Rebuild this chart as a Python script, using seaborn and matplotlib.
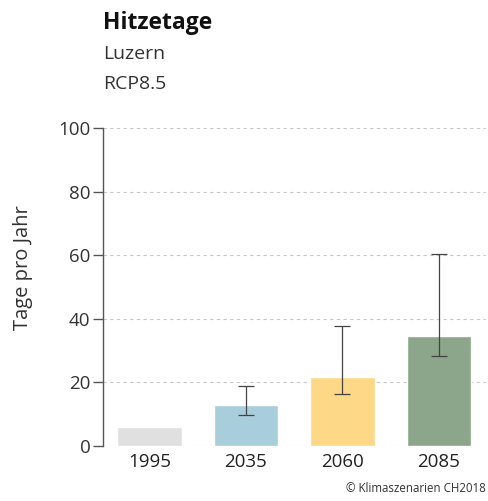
import matplotlib
matplotlib.use("Agg")
import matplotlib.pyplot as plt
import seaborn as sns
import pandas as pd
import numpy as np

periods = ["1995", "2035", "2060", "2085"]
values = [6.1, 12.9, 21.8, 34.6]
err_low = [np.nan, 9.6, 16.2, 28.3]
err_high = [np.nan, 18.9, 37.6, 60.5]
colors = ["#e0e0e0", "#a8cedb", "#fdd886", "#8ba68a"]
yticks = [0, 20, 40, 60, 80, 100]

sns.set_theme(style="white")
plt.rcParams['font.family'] = ['Open Sans', 'DejaVu Sans']

df = pd.DataFrame({"period": periods, "value": values})

fig = plt.figure(figsize=(4.88, 5.01), dpi=100)
ax = fig.add_axes([0.211, 0.11, 0.785, 0.634])

sns.barplot(data=df, x="period", y="value", hue="period", palette=colors,
            legend=False, width=0.67, ax=ax, errorbar=None, saturation=1)

x = np.arange(len(periods))
mid = np.array(values)
lo = np.array(err_low)
hi = np.array(err_high)
ax.errorbar(x[1:], mid[1:], yerr=[mid[1:] - lo[1:], hi[1:] - mid[1:]],
            fmt="none", ecolor="#444444", elinewidth=0.9, capsize=5.5, capthick=0.9)

ax.set_xlim(-0.483, 3.49)
ax.set_ylim(0, 100)
ax.set_yticks(yticks)
ax.yaxis.grid(True, linestyle=(0, (3, 3)), color="#c8c8c8", linewidth=0.8)
ax.set_axisbelow(True)
for s in ["top", "right", "bottom"]:
    ax.spines[s].set_visible(False)
ax.spines["left"].set_color("#555555")
ax.spines["left"].set_linewidth(1.0)
ax.tick_params(axis="y", length=7, width=1, color="#555555", labelsize=13.5, labelcolor="#333333", pad=2, left=True)
ax.tick_params(axis="x", length=0, labelsize=13.5, labelcolor="#222222", pad=5)
ax.set_xlabel("")
ax.set_ylabel("Tage pro Jahr", fontsize=14.5, color="#333333")
ax.yaxis.set_label_coords(-0.182, 0.56)

fig.text(0.211, 0.955, "Hitzetage", fontsize=16.5, fontweight="bold", color="#111111", va="center")
fig.text(0.211, 0.893, "Luzern", fontsize=14, color="#333333", va="center")
fig.text(0.211, 0.833, "RCP8.5", fontsize=14, color="#333333", va="center")
fig.text(0.995, 0.012, "© Klimaszenarien CH2018", fontsize=8.3, color="#333333", ha="right", va="bottom")

fig.savefig("out.png", dpi=100)
